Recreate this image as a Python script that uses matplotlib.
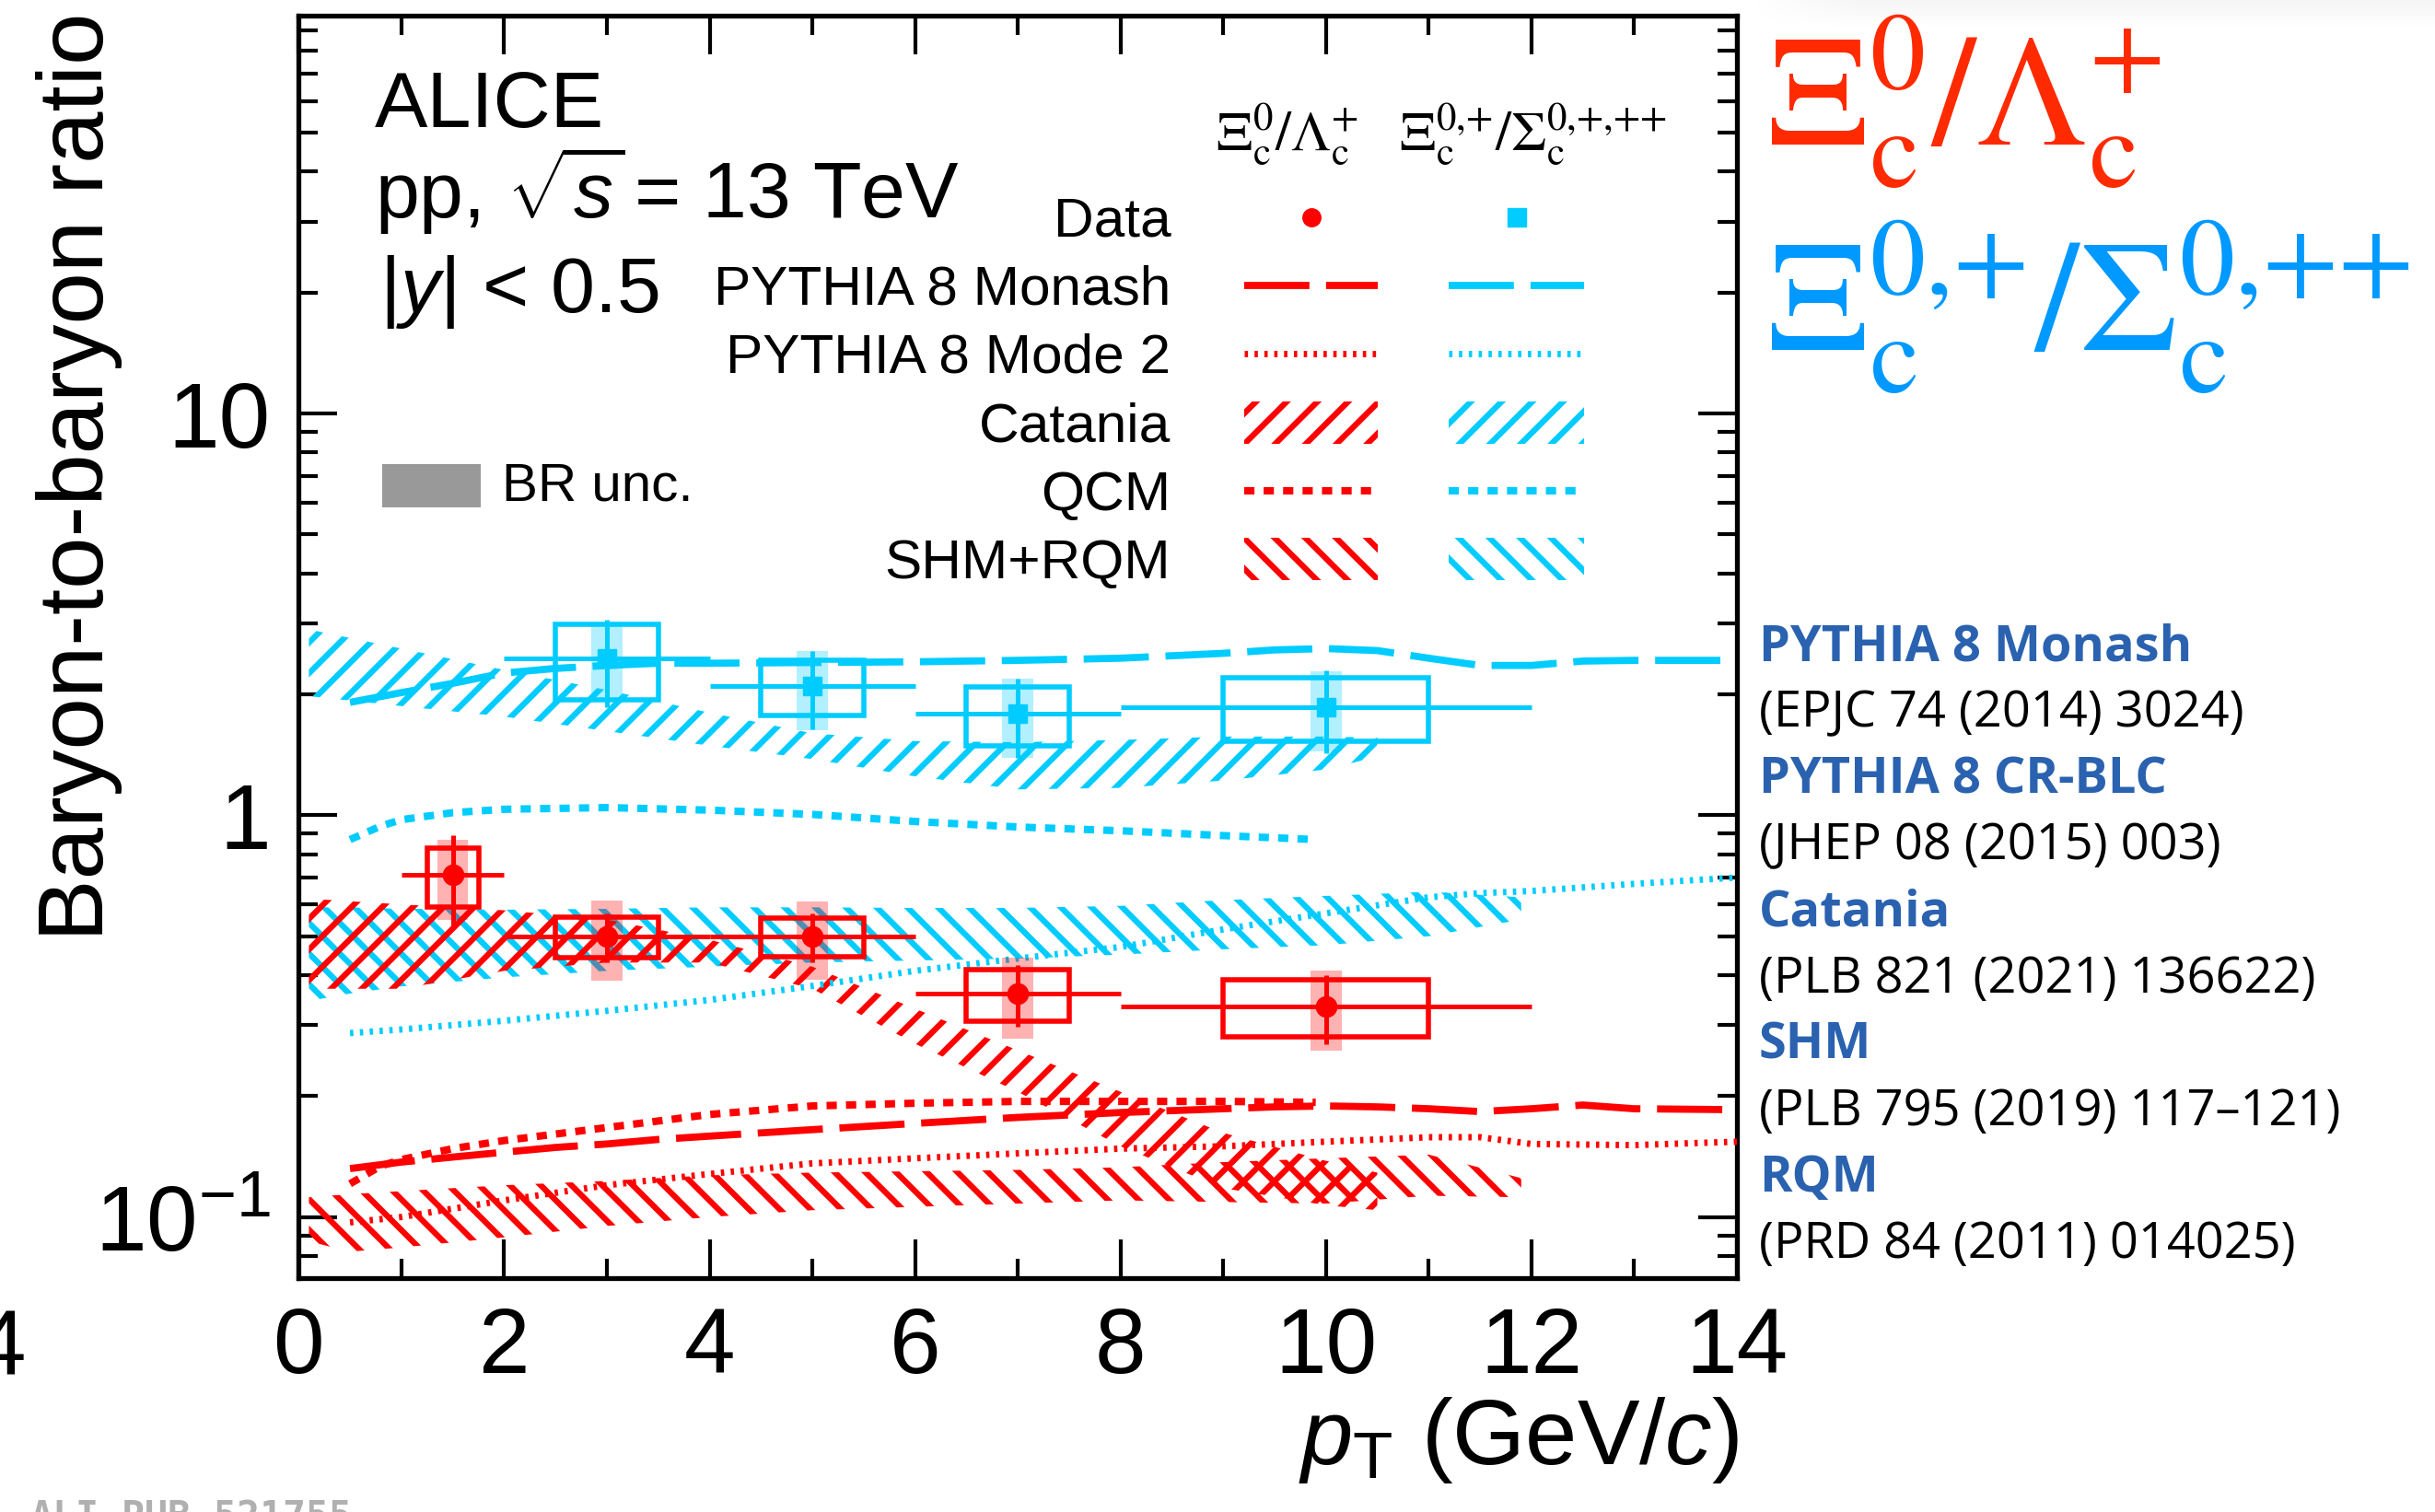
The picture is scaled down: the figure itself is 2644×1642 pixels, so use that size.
import numpy as np
import matplotlib
matplotlib.use("Agg")
import matplotlib.pyplot as plt
from matplotlib.patches import Rectangle
from matplotlib.lines import Line2D
from matplotlib.ticker import FixedLocator, FixedFormatter, LogLocator, NullFormatter, MultipleLocator

plt.rcParams['font.family'] = ['Liberation Sans', 'DejaVu Sans']
plt.rcParams['mathtext.fontset'] = 'custom'
plt.rcParams['mathtext.rm'] = 'Liberation Sans'
plt.rcParams['mathtext.it'] = 'Liberation Sans:italic'
plt.rcParams['mathtext.bf'] = 'Liberation Sans:bold'
plt.rcParams['hatch.linewidth'] = 4.6
plt.rcParams['lines.scale_dashes'] = False

# ---------------- measured ratios ----------------
# Xi_c^0 / Lambda_c^+
xilc_pt = np.array([1.5, 3.0, 5.0, 7.0, 10.0])
xilc_pt_lo = np.array([1.0, 2.0, 4.0, 6.0, 8.0])
xilc_pt_hi = np.array([2.0, 4.0, 6.0, 8.0, 12.0])
xilc_val = np.array([0.71, 0.50, 0.50, 0.36, 0.335])
xilc_stat = np.array([0.18, 0.07, 0.07, 0.063, 0.066])
xilc_syst = np.array([0.118, 0.057, 0.055, 0.052, 0.054])
xilc_br = np.array([0.16, 0.113, 0.11, 0.082, 0.075])

# Xi_c^{0,+} / Sigma_c^{0,+,++}
xisc_pt = np.array([3.0, 5.0, 7.0, 10.0])
xisc_pt_lo = np.array([2.0, 4.0, 6.0, 8.0])
xisc_pt_hi = np.array([4.0, 6.0, 8.0, 12.0])
xisc_val = np.array([2.46, 2.10, 1.79, 1.86])
xisc_stat = np.array([0.60, 0.46, 0.40, 0.43])
xisc_syst = np.array([0.52, 0.33, 0.30, 0.335])
xisc_br = np.array([0.50, 0.47, 0.40, 0.42])

# ---------------- model predictions ----------------
monash_pt = [0.5, 1, 1.5, 2, 2.5, 3, 3.5, 4, 5, 6, 7, 8, 9, 9.5, 10, 10.5, 11, 11.5, 12, 12.5, 13, 14]
monash_xisc = [1.91, 2.02, 2.13, 2.26, 2.32, 2.36, 2.39, 2.39, 2.40, 2.41, 2.43, 2.46, 2.53, 2.58,
               2.60, 2.57, 2.46, 2.36, 2.36, 2.42, 2.43, 2.43]
monash_xilc = [0.132, 0.137, 0.141, 0.145, 0.149, 0.152, 0.156, 0.159, 0.165, 0.171, 0.177, 0.182,
               0.186, 0.188, 0.189, 0.188, 0.186, 0.183, 0.186, 0.190, 0.186, 0.185]

mode2_pt = [0.5, 1, 2, 3, 4, 5, 6, 7, 8, 9, 10, 11, 11.5, 12, 13, 14]
mode2_xisc = [0.287, 0.293, 0.308, 0.326, 0.347, 0.376, 0.41, 0.44, 0.47, 0.52, 0.57, 0.625,
              0.64, 0.648, 0.675, 0.70]
mode2_xilc = [0.097, 0.100, 0.110, 0.120, 0.128, 0.136, 0.140, 0.144, 0.148, 0.150, 0.154, 0.158,
              0.158, 0.152, 0.151, 0.154]

qcm_pt = [0.5, 0.8, 1, 1.5, 2, 3, 4, 5, 6, 7, 8, 9, 9.9]
qcm_xisc = [0.87, 0.94, 0.975, 1.015, 1.035, 1.045, 1.03, 1.005, 0.965, 0.935, 0.915, 0.89, 0.87]
qcm_xilc = [0.121, 0.134, 0.139, 0.148, 0.155, 0.167, 0.180, 0.189, 0.192, 0.194, 0.194, 0.194, 0.193]

catania_pt = [0.1, 1, 2, 3, 4, 5, 6, 7, 8, 9, 10, 10.5]
catania_xisc_lo = [1.98, 1.87, 1.76, 1.62, 1.49, 1.38, 1.25, 1.16, 1.17, 1.22, 1.30, 1.40]
catania_xisc_hi = [2.90, 2.60, 2.30, 2.05, 1.80, 1.60, 1.53, 1.52, 1.54, 1.57, 1.57, 1.56]
catania_xilc_lo = [0.37, 0.37, 0.41, 0.43, 0.43, 0.37, 0.27, 0.205, 0.15, 0.118, 0.107, 0.104]
catania_xilc_hi = [0.62, 0.60, 0.58, 0.55, 0.49, 0.42, 0.33, 0.26, 0.205, 0.162, 0.138, 0.129]

shm_pt = [0.1, 0.5, 1, 2, 3, 4, 5, 6, 7, 8, 9, 10, 11, 11.9]
shm_xisc_lo = [0.345, 0.36, 0.375, 0.395, 0.41, 0.42, 0.43, 0.435, 0.44, 0.45, 0.464, 0.475, 0.50, 0.55]
shm_xisc_hi = [0.59, 0.59, 0.585, 0.582, 0.585, 0.59, 0.59, 0.588, 0.588, 0.595, 0.615, 0.63, 0.645, 0.625]
shm_xilc_lo = [0.087, 0.082, 0.084, 0.089, 0.095, 0.100, 0.104, 0.106, 0.108, 0.110, 0.109, 0.108, 0.113, 0.112]
shm_xilc_hi = [0.112, 0.114, 0.116, 0.120, 0.123, 0.127, 0.129, 0.130, 0.131, 0.133, 0.137, 0.140, 0.143, 0.125]

xticks = [0, 2, 4, 6, 8, 10, 12, 14]
yticks = [0.1, 1, 10]
ytick_labels = [r'$10^{-1}$', '1', '10']

references = [
    ("PYTHIA 8 Monash", "(EPJC 74 (2014) 3024)"),
    ("PYTHIA 8 CR-BLC", "(JHEP 08 (2015) 003)"),
    ("Catania", "(PLB 821 (2021) 136622)"),
    ("SHM", "(PLB 795 (2019) 117\u2013121)"),
    ("RQM", "(PRD 84 (2011) 014025)"),
]

# ---------------- styles ----------------
RED = '#ff0000'
CYAN = '#00ccff'
MONASH = dict(lw=5.6, dashes=(51, 13))
MODE2 = dict(lw=5.0, dashes=(2.6, 5.1))
QCM = dict(lw=5.8, dashes=(8, 7.2))
REF_FONT = ['Open Sans', 'Noto Sans', 'DejaVu Sans']
HATCH_LW = 4.6

LABEL_XILC = r'$\Xi_{\mathrm{c}}^{0}/\Lambda_{\mathrm{c}}^{{+}}$'
LABEL_XISC_LEG = r'$\Xi_{\mathrm{c}}^{0{,}{+}}/\Sigma_{\mathrm{c}}^{0{,}{+}{,}{+}{+}}$'
LABEL_XISC_BIG = r'$\Xi_{\mathrm{c}}^{0{,}{+}}/\Sigma_{\mathrm{c}}^{0{,}{+}{+}}$'

W, H = 2644, 1642
fig = plt.figure(figsize=(W / 100, H / 100), dpi=100, facecolor='white')

# soft grey shade along the top-right border
shade = fig.add_axes([1900 / W, 1 - 30 / H, (W - 1900) / W, 30 / H])
ramp_y = np.linspace(1.0, 0.0, 30)[:, None]
ramp_x = np.clip(np.linspace(0, 1, W - 1900) * 6, 0, 1)[None, :]
shade.imshow(ramp_y * ramp_x, cmap='Greys', vmin=0, vmax=12, aspect='auto', interpolation='bilinear')
shade.axis('off')

ax = fig.add_axes([324.3 / W, 1 - 1387.9 / H, 1561.7 / W, 1371.3 / H])
ax.set_yscale('log')
ax.set_xlim(0, 14)
ax.set_ylim(0.0705, 98)


def set_hatch_width(artist):
    if hasattr(artist, 'set_hatch_linewidth'):
        artist.set_hatch_linewidth(HATCH_LW)
    return artist


# model bands
def band(x, lo, hi, color, hatch):
    coll = ax.fill_between(x, lo, hi, facecolor='none', edgecolor=color, linewidth=0,
                           hatch=hatch, zorder=2)
    set_hatch_width(coll)


band(catania_pt, catania_xisc_lo, catania_xisc_hi, CYAN, '/')
band(shm_pt, shm_xisc_lo, shm_xisc_hi, CYAN, '\\')
band(catania_pt, catania_xilc_lo, catania_xilc_hi, RED, '/')
band(shm_pt, shm_xilc_lo, shm_xilc_hi, RED, '\\')

# model curves
ax.plot(monash_pt, monash_xisc, color=CYAN, zorder=3, **MONASH)
ax.plot(mode2_pt, mode2_xisc, color=CYAN, zorder=3, **MODE2)
ax.plot(qcm_pt, qcm_xisc, color=CYAN, zorder=3, **QCM)
ax.plot(monash_pt, monash_xilc, color=RED, zorder=3, **MONASH)
ax.plot(mode2_pt, mode2_xilc, color=RED, zorder=3, **MODE2)
ax.plot(qcm_pt, qcm_xilc, color=RED, zorder=3, **QCM)


def draw_data(pt, lo, hi, val, stat, syst, br, box_hw, color, marker, ms):
    ax.bar(pt, 2 * br, bottom=val - br, width=0.3, color=color, alpha=0.3, linewidth=0, zorder=4)
    for x, v, s, hw in zip(pt, val, syst, box_hw):
        ax.add_patch(Rectangle((x - hw, v - s), 2 * hw, 2 * s, fill=False, edgecolor=color,
                               linewidth=4.0, zorder=5))
    ax.errorbar(pt, val, xerr=[pt - lo, hi - pt], yerr=stat, fmt=marker, ms=ms, color=color,
                mfc=color, mec=color, elinewidth=3.6, capsize=0, zorder=6)


draw_data(xilc_pt, xilc_pt_lo, xilc_pt_hi, xilc_val, xilc_stat, xilc_syst, xilc_br,
          [0.25, 0.5, 0.5, 0.5, 1.0], RED, 'o', 16)
draw_data(xisc_pt, xisc_pt_lo, xisc_pt_hi, xisc_val, xisc_stat, xisc_syst, xisc_br,
          [0.5, 0.5, 0.5, 1.0], CYAN, 's', 15)

# axes styling
for sp in ax.spines.values():
    sp.set_linewidth(3.8)
ax.xaxis.set_major_locator(FixedLocator(xticks))
ax.xaxis.set_minor_locator(MultipleLocator(1))
ax.yaxis.set_major_locator(FixedLocator(yticks))
ax.yaxis.set_major_formatter(FixedFormatter(ytick_labels))
ax.yaxis.set_minor_locator(LogLocator(base=10, subs=np.arange(2, 10)))
ax.yaxis.set_minor_formatter(NullFormatter())
ax.tick_params(which='both', direction='in', top=True, right=True, width=3.0)
ax.tick_params(which='major', length=30)
ax.tick_params(which='minor', length=15)
ax.tick_params(axis='x', which='major', labelsize=72, pad=22)
ax.tick_params(axis='y', which='major', labelsize=72, pad=22)

ax.set_xlabel(r'$p_{\mathrm{T}}$ (GeV/$c$)', fontsize=73, loc='right')
ax.xaxis.set_label_coords(1.001, -0.093)
ax.xaxis.label.set_va('top')
ax.set_ylabel('Baryon-to-baryon ratio', fontsize=73, loc='top')
ax.yaxis.set_label_coords(-0.1225, 1.0026)

# header text
ax.text(0.0531, 0.9114, 'ALICE', transform=ax.transAxes, fontsize=62, va='baseline', ha='left')
ax.text(0.0531, 0.8391, r'pp, $\sqrt{s}\!$ = 13 TeV', transform=ax.transAxes, fontsize=62,
        va='baseline', ha='left')
ax.text(0.0560, 0.7649, r'$|y|$ < 0.5', transform=ax.transAxes, fontsize=62, va='baseline', ha='left')

# BR uncertainty key
ax.add_patch(Rectangle((0.0582, 0.6103), 0.0685, 0.0346, transform=ax.transAxes,
                       facecolor='#999999', edgecolor='none', zorder=7))
ax.text(0.1414, 0.6266, 'BR unc.', transform=ax.transAxes, fontsize=42, va='center', ha='left')

# legend
ax.text(0.6376, 0.8932, LABEL_XILC, transform=ax.transAxes,
        fontsize=44, math_fontfamily='stix', va='baseline', ha='left')
ax.text(0.7650, 0.8932, LABEL_XISC_LEG,
        transform=ax.transAxes, fontsize=44, math_fontfamily='stix', va='baseline', ha='left')

rows = ['Data', 'PYTHIA 8 Monash', 'PYTHIA 8 Mode 2', 'Catania', 'QCM', 'SHM+RQM']
baselines_px = [257, 331, 405, 480, 554, 628]
lab_x = 0.6063
red_x0, red_x1 = 0.6576, 0.7502
cy_x0, cy_x1 = 0.7995, 0.8938
for name, b in zip(rows, baselines_px):
    yb = (1387.9 - b) / 1371.3
    yc = (1387.9 - (b - 21)) / 1371.3
    ax.text(lab_x, yb, name, transform=ax.transAxes, fontsize=43.5, va='baseline', ha='right')
    for (x0, x1, col) in [(red_x0, red_x1, RED), (cy_x0, cy_x1, CYAN)]:
        if name == 'Data':
            ax.add_line(Line2D([(x0 + x1) / 2], [yc], transform=ax.transAxes,
                               marker='o' if col == RED else 's',
                               ms=14 if col == RED else 15, color=col, ls='none'))
        elif name == 'PYTHIA 8 Monash':
            ax.add_line(Line2D([x0, x1], [yc, yc], transform=ax.transAxes, color=col, **MONASH))
        elif name == 'PYTHIA 8 Mode 2':
            ax.add_line(Line2D([x0, x1], [yc, yc], transform=ax.transAxes, color=col, **MODE2))
        elif name == 'QCM':
            ax.add_line(Line2D([x0, x1], [yc, yc], transform=ax.transAxes, color=col, **QCM))
        else:
            h = '/' if name == 'Catania' else '\\'
            key = Rectangle((x0, yc - 0.0166), x1 - x0, 0.0332, transform=ax.transAxes,
                            facecolor='none', edgecolor=col, linewidth=0, hatch=h)
            ax.add_patch(set_hatch_width(key))

# big ratio labels on the right
fig.text(1918 / W, 1 - 157 / H, LABEL_XILC, color='#ff2a00',
         fontsize=123, math_fontfamily='stix', va='baseline', ha='left')
fig.text(1918 / W, 1 - 380 / H, LABEL_XISC_BIG, color='#0099ff',
         fontsize=123, math_fontfamily='stix', va='baseline', ha='left')

# model references
for i, (title, cite) in enumerate(references):
    b1 = 717.6 + 72.0 * (2 * i)
    b2 = 717.6 + 72.0 * (2 * i + 1)
    fig.text(1910 / W, 1 - b1 / H, title, family=REF_FONT, fontweight='bold',
             color='#2a62b0', fontsize=39, va='baseline', ha='left')
    fig.text(1910 / W, 1 - b2 / H, cite, family=REF_FONT, color='black',
             fontsize=39, va='baseline', ha='left')

# neighbouring-panel tick remnant and figure id
fig.text(28 / W, 1 - 1420 / H, '4', fontsize=72, va='top', ha='right')
fig.text(32 / W, 1 - 1627 / H, 'ALI-PUB-521755', family=['DejaVu Sans Mono'], fontweight='bold',
         color='#b0b0b0', fontsize=30, va='top', ha='left')

fig.savefig('out.png', dpi=100, facecolor='white')
